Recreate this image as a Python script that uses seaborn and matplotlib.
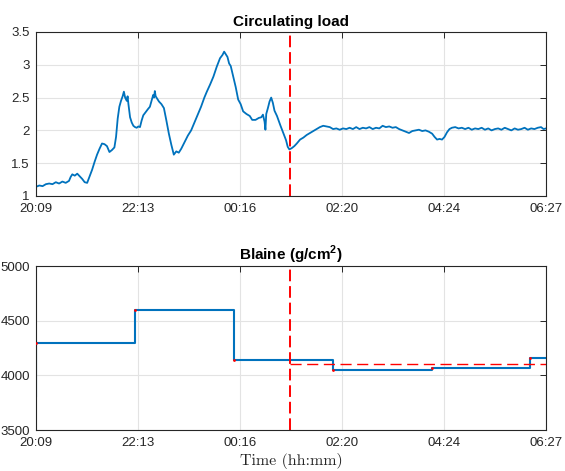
import numpy as np
import pandas as pd
import seaborn as sns
import matplotlib.pyplot as plt

# time axis in minutes after 20:09
tick_labels = ["20:09", "22:13", "00:16", "02:20", "04:24", "06:27"]
t_end = 618
event_min = 307.8

load_min = [0, 4, 8, 12, 16, 20, 24, 28, 32, 36, 40, 42, 44, 47, 50, 53, 56, 59, 62, 65,
            68, 71, 74, 77, 80, 83, 86, 89, 92, 95, 97, 99, 101, 103, 105, 106.5, 108, 110, 111, 112,
            114, 116, 118, 120, 122, 124, 126, 128, 130, 133, 136, 138, 140, 142, 143, 144, 145, 146, 149, 152,
            155, 158, 161, 164, 167, 170, 173, 176, 180, 184, 188, 192, 196, 200, 204, 207, 211, 215, 219, 223,
            226, 228, 230, 232, 234, 236, 239, 242, 245, 248, 251, 255, 259, 262, 266, 270, 273, 275, 277, 278,
            279, 281, 283, 285, 287, 289, 292, 296, 300, 303, 305, 307, 310, 313, 316, 320, 324, 328, 332, 336,
            340, 344, 348, 352, 356, 360, 364, 368, 372, 376, 380, 384, 388, 392, 396, 400, 404, 408, 412, 416,
            420, 424, 428, 432, 436, 440, 444, 448, 452, 456, 460, 464, 468, 472, 476, 480, 483, 486, 489, 492,
            495, 498, 501, 504, 508, 512, 516, 520, 524, 528, 532, 536, 540, 544, 548, 552, 556, 560, 564, 568,
            572, 576, 580, 584, 588, 592, 596, 600, 604, 608, 612, 615, 618]
load_val = [1.14, 1.16, 1.15, 1.18, 1.19, 1.18, 1.21, 1.19, 1.22, 1.20, 1.23, 1.29, 1.33, 1.31, 1.34, 1.30, 1.26, 1.21, 1.20, 1.30,
            1.40, 1.52, 1.63, 1.72, 1.80, 1.79, 1.76, 1.67, 1.70, 1.74, 1.90, 2.18, 2.36, 2.45, 2.52, 2.59, 2.50, 2.45, 2.52, 2.40,
            2.20, 2.12, 2.07, 2.05, 2.04, 2.06, 2.05, 2.15, 2.23, 2.28, 2.33, 2.36, 2.45, 2.54, 2.50, 2.60, 2.52, 2.50, 2.44, 2.40,
            2.34, 2.15, 1.95, 1.78, 1.63, 1.68, 1.66, 1.72, 1.82, 1.92, 2.00, 2.12, 2.24, 2.36, 2.50, 2.59, 2.70, 2.82, 2.97, 3.10,
            3.15, 3.20, 3.16, 3.12, 3.02, 2.98, 2.82, 2.66, 2.47, 2.40, 2.29, 2.25, 2.22, 2.16, 2.16, 2.19, 2.20, 2.24, 2.13, 2.01,
            2.25, 2.34, 2.44, 2.50, 2.42, 2.30, 2.22, 2.08, 1.95, 1.85, 1.75, 1.71, 1.73, 1.76, 1.80, 1.86, 1.89, 1.93, 1.96, 1.99,
            2.02, 2.05, 2.07, 2.06, 2.05, 2.02, 2.03, 2.01, 2.03, 2.02, 2.04, 2.02, 2.05, 2.02, 2.04, 2.03, 2.05, 2.02, 2.04, 2.03,
            2.07, 2.05, 2.06, 2.04, 2.05, 2.02, 2.00, 1.98, 1.96, 1.99, 2.00, 2.01, 1.99, 2.00, 1.98, 1.95, 1.90, 1.86, 1.87, 1.86,
            1.90, 1.97, 2.02, 2.04, 2.05, 2.03, 2.04, 2.02, 2.04, 2.01, 2.03, 2.02, 2.04, 2.01, 2.03, 2.00, 2.02, 2.03, 2.01, 2.04,
            2.02, 2.00, 2.03, 2.01, 2.02, 2.04, 2.01, 2.03, 2.02, 2.04, 2.05, 2.02, 2.03]

blaine_min = [0, 0.5, 120, 240, 360, 480, 599, 618]
blaine_val = [3800, 4300, 4600, 4145, 4050, 4070, 4155, 4155]
blaine_target = 4100

load_yticks = [1, 1.5, 2, 2.5, 3, 3.5]
load_ylabels = ["1", "1.5", "2", "2.5", "3", "3.5"]
blaine_yticks = [3500, 4000, 4500, 5000]

sns.set_style("white")
plt.rcParams['font.family'] = ['Liberation Sans', 'DejaVu Sans']
plt.rcParams['mathtext.fontset'] = 'custom'
plt.rcParams['mathtext.bf'] = 'Liberation Sans:bold'
plt.rcParams['mathtext.rm'] = 'Liberation Sans'

blue = "#0072BD"
fig = plt.figure(figsize=(5.65, 4.71), dpi=100)
ax1 = fig.add_axes([0.0637, 0.5839, 0.9027, 0.3482])
ax2 = fig.add_axes([0.0637, 0.087, 0.9027, 0.3482])

xt = np.linspace(0, t_end, len(tick_labels))

def style(ax):
    ax.set_xlim(0, t_end)
    ax.set_xticks(xt)
    ax.set_xticklabels(tick_labels)
    ax.grid(True, color="#e3e3e3", lw=0.8)
    ax.set_axisbelow(True)
    for s in ax.spines.values():
        s.set_color("#262626")
        s.set_linewidth(0.8)
    ax.tick_params(direction="in", length=4, width=0.7, top=True, right=True,
                   labelsize=9.5, colors="#262626")
    ax.tick_params(axis="x", pad=5)
    ax.tick_params(axis="y", pad=4.5)
    ax.set_xlabel("")
    ax.set_ylabel("")

# top: circulating load
sns.lineplot(x=load_min, y=load_val, ax=ax1, color=blue, lw=1.3, estimator=None)
ax1.axvline(event_min, color="red", lw=1.4, dashes=(6, 2.5))
ax1.set_ylim(1, 3.5)
ax1.set_yticks(load_yticks)
ax1.set_yticklabels(load_ylabels)
style(ax1)
ax1.set_title("Circulating load", fontsize=11, fontweight="bold", pad=4, color="black")

# bottom: blaine
df = pd.DataFrame({"t": blaine_min, "v": blaine_val})
sns.lineplot(data=df, x="t", y="v", ax=ax2, color=blue, lw=1.5, estimator=None,
             drawstyle="steps-post")
sns.scatterplot(x=blaine_min[1:-1], y=blaine_val[1:-1], ax=ax2, color="red", s=4,
                linewidth=0, zorder=5)
ax2.plot([event_min, t_end], [blaine_target, blaine_target], color="red", lw=1.0, dashes=(8, 4))
ax2.axvline(event_min, color="red", lw=1.4, dashes=(6, 2.5))
ax2.set_ylim(3500, 5000)
ax2.set_yticks(blaine_yticks)
style(ax2)
ax2.set_title(r"Blaine (g/cm$^{\mathbf{2}}$)", fontsize=11, fontweight="bold", pad=4, color="black")
ax2.set_xlabel("Time (hh:mm)", fontsize=11.5, labelpad=3, family="cmr10", color="#262626")

fig.savefig("out.png", dpi=100)
